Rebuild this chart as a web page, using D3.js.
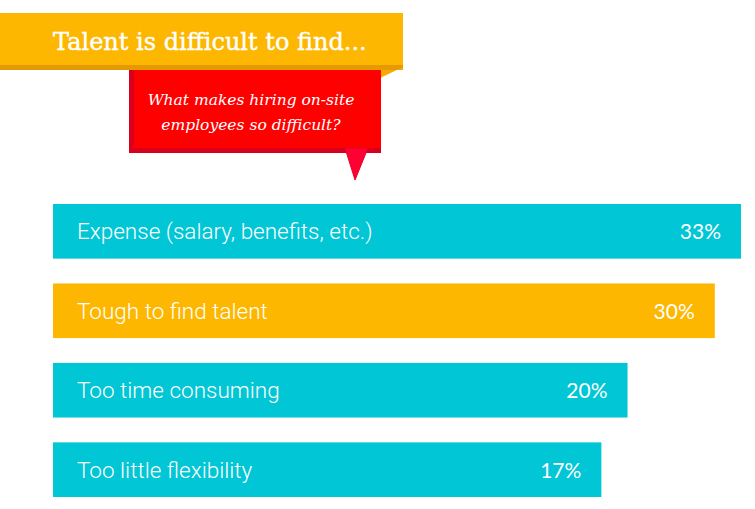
<!DOCTYPE html>
<html><head><meta charset="utf-8">
<script src="https://cdn.jsdelivr.net/npm/d3@7"></script>
<style>html,body{margin:0;padding:0;background:#fff;}svg{display:block;}</style>
</head><body>
<svg id="chart" width="755" height="509"></svg>
<script>
const categories = ["Expense (salary, benefits, etc.)", "Tough to find talent", "Too time consuming", "Too little flexibility"];
const values = [33, 30, 20, 17];
const valueLabels = ["33%", "30%", "20%", "17%"];
const barColors = ["#00C6D5", "#FDB700", "#00C6D5", "#00C6D5"];
const title = "Talent is difficult to find...";
const subtitleLines = ["What makes hiring on-site", "employees so difficult?"];

const svg = d3.select("#chart");

// Title banner
svg.append("rect").attr("x", 0).attr("y", 13).attr("width", 403).attr("height", 53).attr("fill", "#FDB700");
svg.append("rect").attr("x", 0).attr("y", 65).attr("width", 403).attr("height", 5).attr("fill", "#E49A00");
svg.append("path").attr("d", "M380,70 L403,70 L403,67 L380,78 Z").attr("fill", "#F9A900");
svg.append("text").attr("x", 53).attr("y", 50).attr("fill", "#fff")
  .attr("font-family", "'DejaVu Serif', serif").attr("font-size", 24)
  .attr("stroke", "#fff").attr("stroke-width", 0.4)
  .text(title);

// Red callout
svg.append("rect").attr("x", 129).attr("y", 70).attr("width", 252).attr("height", 83).attr("fill", "#D8001C");
svg.append("rect").attr("x", 134).attr("y", 70).attr("width", 247).attr("height", 78).attr("fill", "#FF0000");
svg.append("path").attr("d", "M345,148 L368,148 L355,180 Z").attr("fill", "#FF0033").attr("stroke", "#E8002A").attr("stroke-width", 1);
svg.append("text").attr("x", 251).attr("y", 105).attr("text-anchor", "middle").attr("fill", "#fff")
  .attr("font-family", "'DejaVu Serif', serif").attr("font-style", "italic").attr("font-size", 15.5)
  .selectAll("tspan").data(subtitleLines).join("tspan")
  .attr("x", 251).attr("dy", (d, i) => i === 0 ? 0 : 25).text(d => d);

// Bars
const x0 = 53;
const x = d3.scaleLinear().domain([0, 33]).range([x0 + 400, 741]);
const y = d3.scaleBand().domain(categories).range([204, 497]).paddingInner(0.3125).paddingOuter(0);

const g = svg.append("g");
const rows = g.selectAll("g.row").data(categories).join("g").attr("class", "row");
rows.append("rect")
  .attr("x", x0)
  .attr("y", d => y(d))
  .attr("width", (d, i) => x(values[i]) - x0)
  .attr("height", y.bandwidth())
  .attr("fill", (d, i) => barColors[i]);
rows.append("text")
  .attr("x", x0 + 24)
  .attr("y", d => y(d) + y.bandwidth() / 2 + 8)
  .attr("fill", "#fff")
  .attr("font-family", "Roboto, 'Liberation Sans', Arial, sans-serif")
  .attr("font-weight", 300)
  .attr("font-size", 22.5)
  .text(d => d);
rows.append("text")
  .attr("x", (d, i) => x(values[i]) - 20)
  .attr("y", d => y(d) + y.bandwidth() / 2 + 8)
  .attr("text-anchor", "end")
  .attr("fill", "#fff")
  .attr("font-family", "Lato, 'Open Sans', sans-serif")
  .attr("font-size", 21)
  .text((d, i) => valueLabels[i]);
</script>
</body></html>
